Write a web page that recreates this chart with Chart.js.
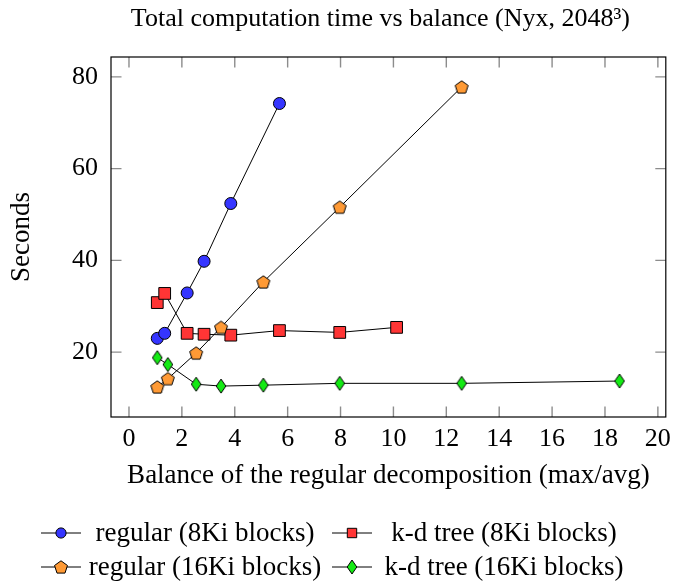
<!DOCTYPE html>
<html>
<head>
<meta charset="utf-8">
<script src="https://cdn.jsdelivr.net/npm/chart.js@4.4.1/dist/chart.umd.min.js"></script>
<style>
  html, body { margin: 0; padding: 0; background: #ffffff; }
  #wrap { width: 678px; height: 582px; }
</style>
</head>
<body>
<div id="wrap"><canvas id="chart" width="678" height="582"></canvas></div>
<script>
// Balance (max/avg) of the regular decomposition and total run time in seconds
const regular8Balance = [1.07, 1.35, 2.20, 2.84, 3.85, 5.69];
const regular8Seconds = [23.0, 24.1, 32.9, 39.8, 52.4, 74.2];

const kdtree8Balance = [1.07, 1.35, 2.20, 2.84, 3.85, 5.69, 7.97, 10.12];
const kdtree8Seconds = [30.8, 32.8, 24.1, 23.9, 23.7, 24.7, 24.3, 25.4];

const regular16Balance = [1.07, 1.47, 2.54, 3.48, 5.08, 7.97, 12.58];
const regular16Seconds = [12.4, 14.2, 19.8, 25.4, 35.3, 51.6, 77.8];

const kdtree16Balance = [1.07, 1.47, 2.54, 3.48, 5.08, 7.97, 12.58, 18.55];
const kdtree16Seconds = [18.8, 17.3, 13.0, 12.6, 12.8, 13.2, 13.2, 13.7];

const seriesLabels = [
  'regular (8Ki blocks)',
  'k-d tree (8Ki blocks)',
  'regular (16Ki blocks)',
  'k-d tree (16Ki blocks)'
];

const xTickValues = [0, 2, 4, 6, 8, 10, 12, 14, 16, 18, 20];
const yTickValues = [20, 40, 60, 80];

const titleText = 'Total computation time vs balance (Nyx, 2048\u00B3)';
const xTitleText = 'Balance of the regular decomposition (max/avg)';
const yTitleText = 'Seconds';

const FONT = "'Liberation Serif', 'Times New Roman', serif";

function zip(xs, ys) {
  return xs.map((x, i) => ({ x: x, y: ys[i] }));
}

// Marker sprites for the shapes Chart.js does not provide
function pentagonSprite(fill) {
  const c = document.createElement('canvas');
  const s = 16; c.width = s; c.height = s;
  const g = c.getContext('2d');
  const r = 6.8, cx = s / 2, cy = s / 2 + 0.6;
  g.beginPath();
  for (let k = 0; k < 5; k++) {
    const a = -Math.PI / 2 + k * 2 * Math.PI / 5;
    const px = cx + r * Math.cos(a), py = cy + r * Math.sin(a);
    if (k === 0) g.moveTo(px, py); else g.lineTo(px, py);
  }
  g.closePath();
  g.fillStyle = fill; g.fill();
  g.lineWidth = 1; g.strokeStyle = '#000'; g.stroke();
  return c;
}
function diamondSprite(fill) {
  const c = document.createElement('canvas');
  const w = 12, h = 16; c.width = w; c.height = h;
  const g = c.getContext('2d');
  const hw = 4.8, hh = 7.0, cx = w / 2, cy = h / 2;
  g.beginPath();
  g.moveTo(cx, cy - hh); g.lineTo(cx + hw, cy); g.lineTo(cx, cy + hh); g.lineTo(cx - hw, cy);
  g.closePath();
  g.fillStyle = fill; g.fill();
  g.lineWidth = 1; g.strokeStyle = '#000'; g.stroke();
  return c;
}

const BLUE = '#3535ff', RED = '#ff3535', ORANGE = '#ff9a35', GREEN = '#14ea14';

function seriesStyle(fill, style, radius, order) {
  return {
    borderColor: '#000000',
    borderWidth: 1,
    pointStyle: style,
    pointRadius: radius,
    pointHoverRadius: radius,
    pointBackgroundColor: fill,
    pointBorderColor: '#000000',
    pointBorderWidth: 1,
    tension: 0,
    fill: false,
    order: order
  };
}

const datasets = [
  Object.assign({ label: seriesLabels[0], data: zip(regular8Balance, regular8Seconds) }, seriesStyle(BLUE, 'circle', 6, 3)),
  Object.assign({ label: seriesLabels[1], data: zip(kdtree8Balance, kdtree8Seconds) }, seriesStyle(RED, 'rect', 8.3, 2)),
  Object.assign({ label: seriesLabels[2], data: zip(regular16Balance, regular16Seconds) }, seriesStyle(ORANGE, pentagonSprite(ORANGE), 6, 1)),
  Object.assign({ label: seriesLabels[3], data: zip(kdtree16Balance, kdtree16Seconds) }, seriesStyle(GREEN, diamondSprite(GREEN), 6, 0))
];

// Axis frame with inward tick marks on all four sides
const framePlugin = {
  id: 'frame',
  beforeDatasetsDraw(chart) {
    const { ctx, chartArea: a, scales } = chart;
    const tl = 10.5;
    ctx.save();
    ctx.strokeStyle = 'rgba(0,0,0,0.45)';
    ctx.lineWidth = 1.4;
    ctx.beginPath();
    scales.x.ticks.forEach(t => {
      const px = scales.x.getPixelForValue(t.value);
      ctx.moveTo(px, a.bottom); ctx.lineTo(px, a.bottom - tl);
      ctx.moveTo(px, a.top); ctx.lineTo(px, a.top + tl);
    });
    scales.y.ticks.forEach(t => {
      const py = scales.y.getPixelForValue(t.value);
      ctx.moveTo(a.left, py); ctx.lineTo(a.left + tl, py);
      ctx.moveTo(a.right, py); ctx.lineTo(a.right - tl, py);
    });
    ctx.stroke();
    ctx.strokeStyle = '#000000';
    ctx.lineWidth = 1.2;
    ctx.strokeRect(a.left, a.top, a.right - a.left, a.bottom - a.top);
    ctx.restore();
  }
};

// Title centred over the plot box
const titlePlugin = {
  id: 'plotTitle',
  afterDraw(chart) {
    const { ctx, chartArea: a } = chart;
    ctx.save();
    ctx.font = '26px ' + FONT;
    ctx.fillStyle = '#000';
    ctx.textAlign = 'center';
    ctx.textBaseline = 'middle';
    ctx.fillText(titleText, (a.left + a.right) / 2 - 8, 19);
    ctx.restore();
  }
};

// Two-column legend below the axis
const legendPlugin = {
  id: 'gridLegend',
  afterDraw(chart) {
    const { ctx } = chart;
    const imgCenters = [61, 352];
    const textCenters = [205, 504];
    const rows = [533, 567];
    const half = 20;
    ctx.save();
    chart.data.datasets.forEach((ds, i) => {
      const col = i % 2, row = Math.floor(i / 2);
      const cx = imgCenters[col], cy = rows[row];
      ctx.strokeStyle = '#000';
      ctx.lineWidth = 1;
      ctx.beginPath();
      ctx.moveTo(cx - half, cy); ctx.lineTo(cx + half, cy);
      ctx.stroke();
      ctx.fillStyle = ds.pointBackgroundColor;
      ctx.strokeStyle = '#000';
      ctx.lineWidth = 1;
      Chart.helpers.drawPoint(ctx, {
        pointStyle: ds.pointStyle,
        radius: ds.pointStyle === 'rect' ? ds.pointRadius * 0.8 : ds.pointRadius * 0.85,
        borderWidth: 1,
        rotation: 0
      }, cx, cy);
      ctx.fillStyle = '#000';
      ctx.font = '27px ' + FONT;
      ctx.textAlign = 'center';
      ctx.textBaseline = 'middle';
      ctx.fillText(ds.label, textCenters[col], cy + 1);
    });
    ctx.restore();
  }
};

new Chart(document.getElementById('chart'), {
  type: 'line',
  data: { datasets: datasets },
  plugins: [framePlugin, titlePlugin, legendPlugin],
  options: {
    responsive: false,
    animation: false,
    events: [],
    layout: { padding: { left: 0, right: 5, top: 57, bottom: 90 } },
    plugins: {
      legend: { display: false },
      title: { display: false },
      tooltip: { enabled: false }
    },
    scales: {
      x: {
        type: 'linear',
        min: -0.68,
        max: 20.3,
        grid: { display: false, drawTicks: false },
        border: { display: false },
        afterBuildTicks: s => { s.ticks = xTickValues.map(v => ({ value: v })); },
        afterFit: s => { s.height = 75; },
        ticks: {
          color: '#000',
          font: { family: FONT, size: 26 },
          padding: 7,
          maxRotation: 0,
          autoSkip: false,
          callback: v => String(v)
        },
        title: {
          display: true,
          text: xTitleText,
          color: '#000',
          font: { family: FONT, size: 27, lineHeight: 1.2 },
          padding: { top: 0, bottom: 0 }
        }
      },
      y: {
        type: 'linear',
        min: 5.86,
        max: 84.34,
        grid: { display: false, drawTicks: false },
        border: { display: false },
        afterBuildTicks: s => { s.ticks = yTickValues.map(v => ({ value: v })); },
        afterFit: s => { s.width = 111; },
        ticks: {
          color: '#000',
          font: { family: FONT, size: 26 },
          padding: 13,
          autoSkip: false,
          callback: v => String(v)
        },
        title: {
          display: true,
          text: yTitleText,
          color: '#000',
          font: { family: FONT, size: 27, lineHeight: 1.2 },
          padding: { top: 6, bottom: 0 }
        }
      }
    }
  }
});
</script>
</body>
</html>
